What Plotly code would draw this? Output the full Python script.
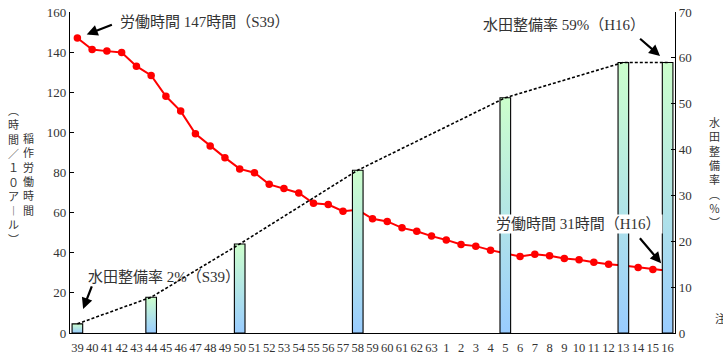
import plotly.graph_objects as go

# Year labels: Showa 39-63, then Heisei 1-16
year_labels = ["39", "40", "41", "42", "43", "44", "45", "46", "47", "48", "49",
               "50", "51", "52", "53", "54", "55", "56", "57", "58", "59", "60",
               "61", "62", "63", "1", "2", "3", "4", "5", "6", "7", "8", "9",
               "10", "11", "12", "13", "14", "15", "16"]

# Rice-growing labour hours per 10 a
labor_hours = [147, 141.3, 140.5, 139.8, 133, 128.4, 118, 110.6, 99.3, 93.2,
               87.4, 81.8, 79.9, 74.1, 72, 69.8, 64.7, 64, 60.7, 61.4, 56.9,
               55.6, 52.4, 50.7, 48.3, 46.4, 44.1, 43.3, 41.3, 39.8, 38.1,
               39.3, 38.5, 37.1, 36.5, 35.3, 34.3, 33.7, 32.7, 31.7, 31]

# Paddy field improvement rate (%)
paddy_years = ["39", "44", "50", "58", "5", "13", "16"]
paddy_rate = [2, 7.8, 19.4, 35.5, 51.3, 59, 59]

W, H = 723, 356
L, R, T, B = 70, 675, 12, 333
BAR_W = 0.72
TXT = "#333333"
SERIF = "Liberation Serif, 'Noto Sans CJK JP', serif"
SANS = "'Noto Sans CJK JP', sans-serif"


def px(xp):
    return (xp - L) / (R - L)


def py(yp):
    return (B - yp) / (B - T)


xi = list(range(len(year_labels)))
paddy_x = [year_labels.index(c) for c in paddy_years]

fig = go.Figure()

# gradient-filled bars (blue at base, green at top), one per year
for x0, v in zip(paddy_x, paddy_rate):
    fig.add_trace(go.Scatter(
        x=[x0 - BAR_W / 2, x0 + BAR_W / 2, x0 + BAR_W / 2, x0 - BAR_W / 2, x0 - BAR_W / 2],
        y=[0, 0, v, v, 0],
        yaxis="y2", mode="lines", fill="toself",
        line=dict(color="black", width=1.1),
        fillgradient=dict(type="vertical",
                          colorscale=[[0, "#99ccff"], [1, "#ccffcc"]]),
        showlegend=False, hoverinfo="skip"))

# dashed trend through bar tops
fig.add_trace(go.Scatter(
    x=paddy_x, y=paddy_rate, yaxis="y2", mode="lines",
    line=dict(color="black", width=1.6, dash="3px,2px"),
    showlegend=False, hoverinfo="skip"))

# labour hours
fig.add_trace(go.Scatter(
    x=xi, y=labor_hours, mode="lines+markers",
    line=dict(color="#ff0000", width=2),
    marker=dict(color="#ff0000", size=7.5),
    showlegend=False))

ann = []

# arrows pointing at the highlighted values
arrow = dict(text="", showarrow=True, arrowhead=2, arrowsize=1,
             arrowwidth=2.2, arrowcolor="black")
ann.append(dict(arrow, x=0, y=labor_hours[0], xref="x", yref="y",
                ax=36, ay=-14, standoff=10))
ann.append(dict(arrow, x=paddy_x[-1], y=paddy_rate[-1], xref="x", yref="y2",
                ax=-29, ay=-25, standoff=10))
ann.append(dict(arrow, x=paddy_x[0], y=paddy_rate[0], xref="x", yref="y2",
                ax=15, ay=-39, standoff=16))
ann.append(dict(arrow, x=xi[-1], y=labor_hours[-1], xref="x", yref="y",
                ax=-29, ay=-34, standoff=10))

# callout texts
lab_font = dict(family=SERIF, size=15, color=TXT)
ann.append(dict(text=f"労働時間 {labor_hours[0]}時間（S39）", x=px(118), y=py(22),
                xref="paper", yref="paper", xanchor="left", yanchor="middle",
                showarrow=False, font=lab_font))
ann.append(dict(text=f"水田整備率 {paddy_rate[-1]}%（H16）", x=px(481), y=py(25),
                xref="paper", yref="paper", xanchor="left", yanchor="middle",
                showarrow=False, font=lab_font))
ann.append(dict(text=f"水田整備率 {paddy_rate[0]}%（S39）", x=px(86), y=py(277),
                xref="paper", yref="paper", xanchor="left", yanchor="middle",
                showarrow=False, font=lab_font))
ann.append(dict(text=f"労働時間 {labor_hours[-1]}時間（H16）", x=px(494), y=py(224),
                xref="paper", yref="paper", xanchor="left", yanchor="middle",
                showarrow=False, font=lab_font, bgcolor="white", borderpad=1))

# vertical axis titles
vt_font = dict(family=SANS, size=11, color=TXT)


def vertical(s):
    return "<br>".join(s)


ann.append(dict(text=vertical("稲作労働時間"), x=px(28), y=py(174),
                xref="paper", yref="paper", xanchor="center", yanchor="middle",
                showarrow=False, font=vt_font))
ann.append(dict(text=vertical("︵時間／１０ア︱ル︶"), x=px(13), y=py(174),
                xref="paper", yref="paper", xanchor="center", yanchor="middle",
                showarrow=False, font=vt_font))
ann.append(dict(text=vertical("水田整備率︵％︶"), x=px(714), y=py(172),
                xref="paper", yref="paper", xanchor="center", yanchor="middle",
                showarrow=False, font=vt_font))
ann.append(dict(text="注", x=px(720), y=py(318),
                xref="paper", yref="paper", xanchor="center", yanchor="middle",
                showarrow=False, font=vt_font))

tick_font = dict(family=SERIF, size=13, color=TXT)

fig.update_layout(
    width=W, height=H,
    margin=dict(l=L, r=W - R, t=T, b=H - B),
    paper_bgcolor="white", plot_bgcolor="white",
    showlegend=False,
    annotations=ann,
    xaxis=dict(range=[-0.5, len(year_labels) - 0.5], tickmode="array",
               tickvals=xi, ticktext=year_labels, tickangle=0,
               tickfont=dict(family=SERIF, size=12.5, color=TXT),
               ticklabelstandoff=3,
               showline=True, linecolor="black", linewidth=1.2,
               ticks="", showgrid=False, zeroline=False, automargin=False),
    yaxis=dict(range=[0, 160], dtick=20, tickfont=tick_font,
               showline=True, linecolor="black", linewidth=1.2,
               ticks="inside", ticklen=4, tickcolor="black",
               showgrid=False, zeroline=False, automargin=False),
    yaxis2=dict(range=[0, 70], dtick=10, overlaying="y", side="right",
                tickfont=tick_font, showline=True, linecolor="black",
                linewidth=1.2, ticks="inside", ticklen=4, tickcolor="black",
                showgrid=False, zeroline=False, automargin=False),
)

fig.write_html("out.html")
